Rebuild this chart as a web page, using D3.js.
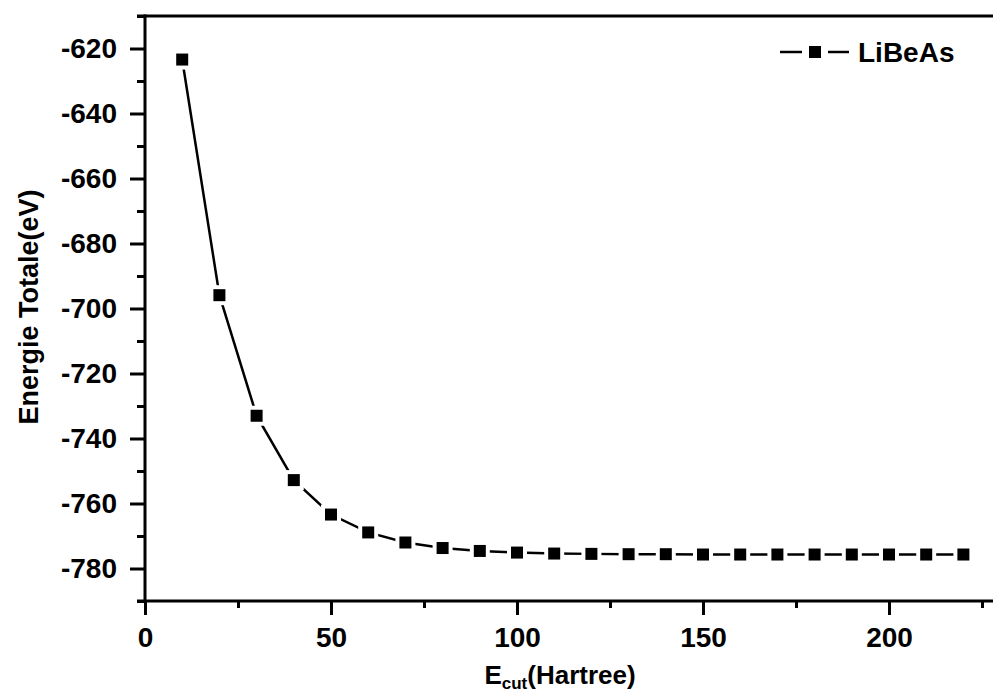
<!DOCTYPE html>
<html>
<head>
<meta charset="utf-8">
<script src="https://cdn.jsdelivr.net/npm/d3@7"></script>
<style>
  body { margin: 0; background: #fff; }
  svg text { font-family: "Liberation Sans", Arial, sans-serif; font-weight: bold; fill: #000; }
</style>
</head>
<body>
<div id="chart"></div>
<script>
// cutoff energies (Hartree) and total energies (eV)
var ecut = [10, 20, 30, 40, 50, 60, 70, 80, 90, 100, 110, 120, 130, 140, 150, 160, 170, 180, 190, 200, 210, 220];
var energy = [-623.4, -695.9, -733.0, -752.8, -763.4, -768.9, -772.0, -773.7, -774.6, -775.1, -775.4, -775.5,
              -775.6, -775.6, -775.7, -775.7, -775.7, -775.7, -775.7, -775.7, -775.7, -775.7];
var seriesName = "LiBeAs";
var xTicks = [0, 50, 100, 150, 200];
var yTicks = [-780, -760, -740, -720, -700, -680, -660, -640, -620];

var W = 993, H = 693;
var margin = {top: 16, left: 145, bottom: 92};

var svg = d3.select("#chart").append("svg")
    .attr("width", W)
    .attr("height", H);

var x = d3.scaleLinear().domain([0, 230]).range([margin.left, margin.left + 230 * 3.72]);
var y = d3.scaleLinear().domain([-790, -610]).range([H - margin.bottom, margin.top]);

var x0 = x(0), yb = y(-790), yt = y(-610);
var plain = function(d) { return String(d); };

// x axis ticks
var xMajor = d3.axisBottom(x).tickValues(xTicks).tickSize(14).tickFormat(plain);
var xMinor = d3.axisBottom(x).tickValues(d3.range(25, 230, 50)).tickSize(7).tickFormat("");
var gx = svg.append("g").attr("transform", "translate(0," + yb + ")").call(xMajor);
svg.append("g").attr("transform", "translate(0," + yb + ")").call(xMinor).select(".domain").remove();
gx.select(".domain").remove();

// y axis ticks
var yMajor = d3.axisLeft(y).tickValues(yTicks).tickSize(15).tickPadding(13).tickFormat(plain);
var yMinor = d3.axisLeft(y).tickValues(d3.range(-790, -609, 20)).tickSize(8).tickFormat("");
var gy = svg.append("g").attr("transform", "translate(" + x0 + ",0)").call(yMajor);
svg.append("g").attr("transform", "translate(" + x0 + ",0)").call(yMinor).select(".domain").remove();
gy.select(".domain").remove();

svg.selectAll(".tick line").attr("stroke", "#000").attr("stroke-width", 3);
svg.selectAll(".tick text").style("font-size", "28px");
gx.selectAll(".tick text").attr("y", 26).attr("dy", "0.71em");

// frame lines (left, bottom, top)
svg.append("line").attr("x1", x0).attr("x2", x0).attr("y1", yt - 1.5).attr("y2", yb + 1.5)
    .attr("stroke", "#000").attr("stroke-width", 3);
svg.append("line").attr("x1", x0 - 8).attr("x2", W).attr("y1", yb).attr("y2", yb)
    .attr("stroke", "#000").attr("stroke-width", 3);
svg.append("line").attr("x1", x0 - 8).attr("x2", W).attr("y1", yt).attr("y2", yt)
    .attr("stroke", "#000").attr("stroke-width", 3);

// data line
var pts = ecut.map(function(d, i) { return [d, energy[i]]; });
var line = d3.line().x(function(d) { return x(d[0]); }).y(function(d) { return y(d[1]); });
svg.append("path").datum(pts).attr("d", line)
    .attr("fill", "none").attr("stroke", "#000").attr("stroke-width", 2.5);

var ms = 12, gap = 4;
svg.selectAll(".gap").data(pts).enter().append("rect")
    .attr("x", function(d) { return x(d[0]) - ms / 2 - gap; })
    .attr("y", function(d) { return y(d[1]) - ms / 2 - gap; })
    .attr("width", ms + 2 * gap).attr("height", ms + 2 * gap)
    .attr("fill", "#fff");
svg.selectAll(".mark").data(pts).enter().append("rect")
    .attr("x", function(d) { return x(d[0]) - ms / 2; })
    .attr("y", function(d) { return y(d[1]) - ms / 2; })
    .attr("width", ms).attr("height", ms)
    .attr("fill", "#000");

// legend
var lg = svg.append("g").attr("transform", "translate(780,52)");
lg.append("line").attr("x1", 0).attr("x2", 22).attr("stroke", "#000").attr("stroke-width", 2.5);
lg.append("line").attr("x1", 48).attr("x2", 69).attr("stroke", "#000").attr("stroke-width", 2.5);
lg.append("rect").attr("x", 29).attr("y", -6).attr("width", 12).attr("height", 12).attr("fill", "#000");
lg.append("text").attr("x", 78).attr("y", 10).style("font-size", "28px").text(seriesName);

// axis titles
var xt = svg.append("text").attr("x", 560).attr("y", 684).attr("text-anchor", "middle").style("font-size", "26px");
xt.append("tspan").text("E");
xt.append("tspan").attr("dy", 5).style("font-size", "17px").text("cut");
xt.append("tspan").attr("dy", -5).text("(Hartree)");

svg.append("text")
    .attr("transform", "translate(38,307) rotate(-90)")
    .attr("text-anchor", "middle")
    .style("font-size", "27px")
    .text("Energie Totale(eV)");
</script>
</body>
</html>
